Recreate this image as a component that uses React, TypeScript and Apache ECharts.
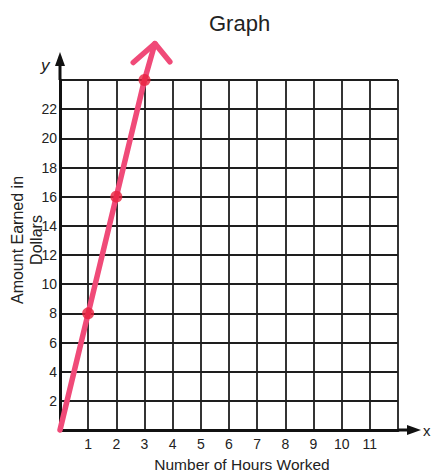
import React, { useEffect, useRef } from "react";
import * as echarts from "echarts";

const hours = [0, 1, 2, 3];
const dollars = [0, 8, 16, 24];
const markedHours = [1, 2, 3];
const markedDollars = [8, 16, 24];
const arrowTip = [3.37, 26.5];
const arrowLeftArm = [2.6, 25.2];
const arrowRightArm = [3.9, 25.25];
const yTicks = [2, 4, 6, 8, 10, 12, 14, 16, 18, 20, 22];
const xTicks = [1, 2, 3, 4, 5, 6, 7, 8, 9, 10, 11];

const W = 432;
const H = 475;
const G = { left: 60, top: 80, right: 34, bottom: 45 };

export default function App() {
  const ref = useRef<HTMLDivElement>(null);
  useEffect(() => {
    document.body.style.margin = "0";
    const chart = echarts.init(ref.current!, null, { renderer: "svg" });
    const font = "Liberation Sans, Arial, sans-serif";
    const gx0 = G.left;
    const gy0 = H - G.bottom;
    const gx1 = W - G.right;
    const gy1 = G.top;
    const lineData = hours.map((h, i) => [h, dollars[i]]).concat([arrowTip]);
    chart.setOption({
      animation: false,
      backgroundColor: "#ffffff",
      title: {
        text: "Graph",
        left: 204,
        top: 7,
        textStyle: { fontFamily: font, fontSize: 22, fontWeight: "normal", color: "#222" },
      },
      grid: { left: G.left, top: G.top, right: G.right, bottom: G.bottom },
      xAxis: {
        type: "value",
        min: 0,
        max: 12,
        interval: 1,
        axisLine: { show: true, lineStyle: { color: "#111", width: 3 } },
        axisTick: { show: false },
        axisLabel: {
          fontFamily: font,
          fontSize: 14,
          color: "#222",
          margin: 7,
          formatter: (v: number) => (xTicks.includes(v) ? String(v) : ""),
        },
        splitLine: { show: true, lineStyle: { color: "#1e1e1e", width: 1.8 } },
      },
      yAxis: {
        type: "value",
        min: 0,
        max: 24,
        interval: 2,
        axisLine: { show: true, lineStyle: { color: "#111", width: 3 } },
        axisTick: { show: false },
        axisLabel: {
          fontFamily: font,
          fontSize: 14,
          color: "#222",
          margin: 3,
          formatter: (v: number) => (yTicks.includes(v) ? String(v) : ""),
        },
        splitLine: { show: true, lineStyle: { color: "#1e1e1e", width: 1.8 } },
      },
      series: [
        {
          type: "line",
          data: lineData,
          clip: false,
          showSymbol: false,
          symbol: "none",
          lineStyle: { color: "#f04a78", width: 5.5, cap: "round" },
          z: 5,
        },
        {
          type: "line",
          data: [arrowLeftArm, arrowTip, arrowRightArm],
          clip: false,
          symbol: "none",
          lineStyle: { color: "#f04a78", width: 5.5, cap: "round", join: "round" },
          z: 5,
        },
        {
          type: "scatter",
          data: markedHours.map((h, i) => [h, markedDollars[i]]),
          symbol: "circle",
          symbolSize: 12,
          itemStyle: { color: "#e8223f" },
          z: 6,
        },
      ],
      graphic: [
        { type: "line", shape: { x1: gx0, y1: gy1, x2: gx0, y2: 58 }, style: { stroke: "#111", lineWidth: 3 } },
        { type: "polygon", shape: { points: [[gx0, 52], [gx0 - 5, 66], [gx0 + 5, 66]] }, style: { fill: "#111" } },
        { type: "line", shape: { x1: gx1, y1: gy0, x2: 414, y2: gy0 }, style: { stroke: "#111", lineWidth: 3 } },
        { type: "polygon", shape: { points: [[421, gy0], [407, gy0 - 5], [407, gy0 + 5]] }, style: { fill: "#111" } },
        { type: "text", x: 41, y: 57, style: { text: "y", font: `italic 17px ${font}`, fill: "#222" } },
        { type: "text", x: 423, y: 423, style: { text: "x", font: `15px ${font}`, fill: "#222" } },
        {
          type: "text",
          x: 27,
          y: 240,
          rotation: Math.PI / 2,
          style: {
            text: "Amount Earned in\nDollars",
            font: `16px ${font}`,
            fill: "#222",
            align: "center",
            verticalAlign: "middle",
            lineHeight: 19,
          },
        },
        {
          type: "text",
          x: 242,
          y: 464,
          style: {
            text: "Number of Hours Worked",
            font: `15.5px ${font}`,
            fill: "#222",
            align: "center",
            verticalAlign: "middle",
          },
        },
      ],
    });
    return () => chart.dispose();
  }, []);
  return <div ref={ref} style={{ width: W, height: H }} />;
}
